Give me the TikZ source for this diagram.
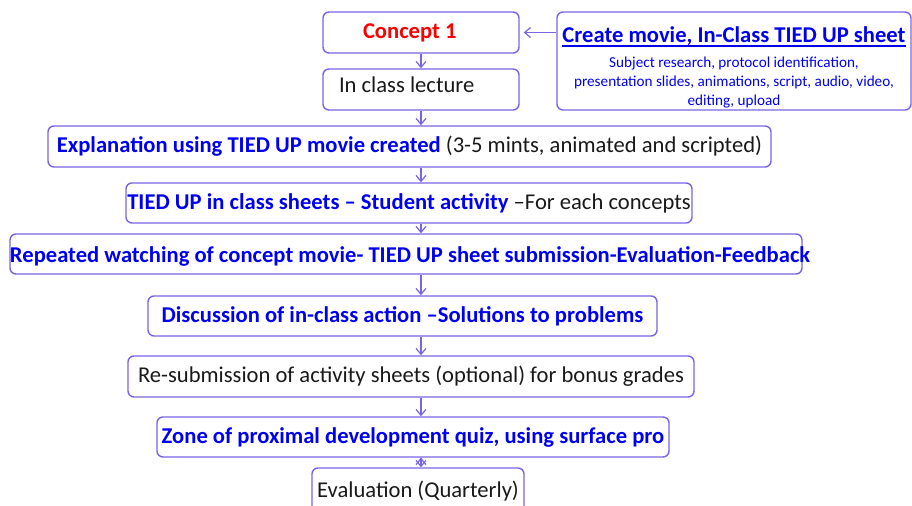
\documentclass[tikz,border=0pt]{standalone}
\usepackage{fontspec}
\setmainfont{Carlito}
\usetikzlibrary{arrows.meta}
\definecolor{boxline}{RGB}{120,100,230}
\definecolor{tblue}{RGB}{0,0,240}
\definecolor{tred}{RGB}{250,0,0}
\definecolor{tblack}{RGB}{25,25,25}
\newcommand\hl[1]{\textbf{\color{tblue}#1}}
\newcommand\thickul[1]{\leavevmode\setbox0\hbox{#1}\rlap{\color{tblue}\vrule height -1.4pt depth 2.4pt width\wd0}\box0}
\tikzset{
  box/.style={shape=rectangle, draw=boxline, line width=.7pt, rounded corners=3pt,
    inner xsep=0pt, inner ysep=0pt, text=tblack, font=\fontsize{11.3}{13}\selectfont},
  flow/.style={draw=boxline, line width=.6pt, -{Straight Barb[length=3pt,width=5pt]}}
}
\begin{document}
\begin{tikzpicture}[x=.5pt,y=-.5pt]
\useasboundingbox (0,0) rectangle (912,506);
\coordinate (spine) at (421,0);
\begin{scope}[nodes={box}]
  \node (concept) at (421,32.5) [minimum width=98pt, minimum height=20.5pt,
    inner xsep=20pt, text width=58pt, align=flush left] {\textbf{\color{tred}Concept 1}};
  \node (lecture) at (421,89.5) [minimum width=98pt, minimum height=20.5pt,
    inner xsep=8pt, text width=82pt, align=flush left, text height=8pt, text depth=5.2pt] {In class lecture};
  \node (create) at (734,61) [minimum width=177pt, minimum height=49pt, align=center,
    font=\fontsize{7.6}{9.5}\selectfont, text=tblue]
    {\rule{0pt}{14pt}{\fontsize{11.3}{13}\selectfont\bfseries\thickul{Create movie, In-Class TIED UP sheet}}\\[3pt]
     Subject research, protocol identification,\\
     presentation slides, animations, script, audio, video,\\
     editing, upload};
  \node (explain) at (409.5,146.5) [minimum width=361.5pt, minimum height=20.5pt]
    {\hl{Explanation using TIED UP movie created} (3-5 mints, animated and scripted)};
  \node (sheets)  at (409,203)     [minimum width=283pt, minimum height=20pt]
    {\hl{TIED UP in class sheets – Student activity} –For each concepts};
  \node (repeat)  at (406,254)     [minimum width=396pt, minimum height=20pt, text height=11pt, text depth=2.2pt]
    {\makebox[396pt][l]{\hl{Repeated watching of concept movie- TIED UP sheet submission-Evaluation-Feedback}}};
  \node (discuss) at (402.5,316)   [minimum width=254.5pt, minimum height=20pt]
    {\hl{Discussion of in-class action –Solutions to problems}};
  \node (resub)   at (411,376.5)   [minimum width=283pt, minimum height=20.5pt]
    {Re-submission of activity sheets (optional) for bonus grades};
  \node (zone)    at (413,437)     [minimum width=256pt, minimum height=20pt]
    {\hl{Zone of proximal development quiz, using surface pro}};
  \node (eval)    at (418,491)     [minimum width=106pt, minimum height=23pt]
    {Evaluation (Quarterly)};
\end{scope}
\path[flow] (create.west |- concept) edge[shorten >=2pt] (concept)
            (concept) edge (lecture)
            (lecture) edge (explain.north -| spine)
            (explain.south -| spine) edge (sheets.north -| spine)
            (sheets.south -| spine)  edge (repeat.north -| spine)
            (repeat.south -| spine)  edge (discuss.north -| spine)
            (discuss.south -| spine) edge (resub.north -| spine)
            (resub.south -| spine)   edge (zone.north -| spine)
            (zone.south -| spine)    edge (eval.north -| spine);
\end{tikzpicture}
\end{document}
